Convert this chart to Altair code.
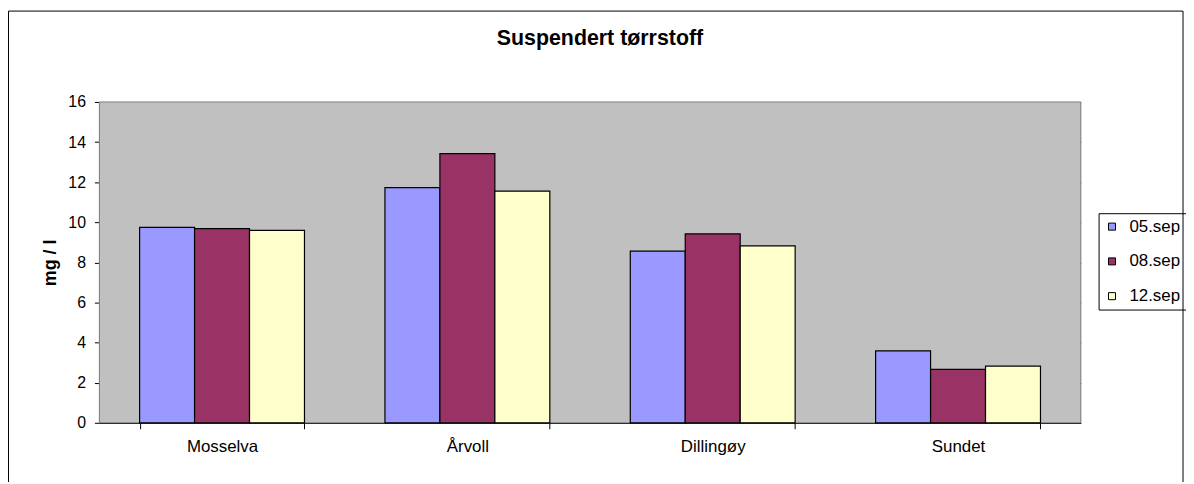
import altair as alt
import pandas as pd

title_text = "Suspendert tørrstoff"
sites = ["Mosselva", "Årvoll", "Dillingøy", "Sundet"]
dates = ["05.sep", "08.sep", "12.sep"]
v_05 = [9.75, 11.73, 8.56, 3.59]
v_08 = [9.68, 13.42, 9.42, 2.66]
v_12 = [9.60, 11.55, 8.82, 2.83]
colors = ["#9999FF", "#993366", "#FFFFCC"]

rows = []
for i, s in enumerate(sites):
    for d, vals in zip(dates, [v_05, v_08, v_12]):
        rows.append({"site": s, "date": d, "value": vals[i]})
df = pd.DataFrame(rows)

FONT = "Liberation Sans"
W, H = 988, 323
one = pd.DataFrame({"a": [0]})

bg = alt.Chart(one).mark_rect(fill="#C0C0C0", stroke="#808080", strokeWidth=1).encode(
    x=alt.value(0), x2=alt.value(W), y=alt.value(0), y2=alt.value(H))

frame = alt.Chart(one).mark_rect(
    fill="transparent", fillOpacity=0, stroke="black", strokeWidth=1
).encode(x=alt.value(-91.5), x2=alt.value(1091), y=alt.value(-91.5), y2=alt.value(420))

title = alt.Chart(pd.DataFrame({"t": [title_text]})).mark_text(
    font=FONT, fontSize=21.5, fontWeight="bold", color="black",
    align="center", baseline="middle"
).encode(text="t:N", x=alt.value(504), y=alt.value(-63))

bars = alt.Chart(df).mark_bar(stroke="black", strokeWidth=1.2).encode(
    x=alt.X("site:N", sort=sites,
            scale=alt.Scale(paddingInner=0.328, paddingOuter=0.164),
            axis=alt.Axis(title=None, labelAngle=0, tickBand="extent",
                          labelFontSize=17, labelColor="black", labelPadding=10,
                          domainColor="black", tickColor="black", tickSize=6,
                          labelFont=FONT, grid=False)),
    xOffset=alt.XOffset("date:N", sort=dates,
                        scale=alt.Scale(paddingInner=0, paddingOuter=0)),
    y=alt.Y("value:Q", scale=alt.Scale(domain=[0, 16], nice=False),
            axis=alt.Axis(title="mg / l", values=list(range(0, 17, 2)),
                          titleFontSize=18, titleFontWeight="bold", titleFont=FONT,
                          titleColor="black", titlePadding=8,
                          labelFontSize=16, labelColor="black", labelFont=FONT,
                          labelPadding=9, tickSize=5, tickColor="black",
                          domainColor="black", grid=True, gridColor="#000000",
                          gridOpacity=0.85)),
    fill=alt.Fill("date:N", sort=dates,
                  scale=alt.Scale(domain=dates, range=colors),
                  legend=alt.Legend(title=None, orient="none", legendX=1006, legendY=112,
                                    symbolType="square", symbolSize=50,
                                    symbolStrokeColor="black", symbolStrokeWidth=1,
                                    labelFontSize=17, labelFont=FONT, labelColor="black",
                                    strokeColor="black", padding=5, rowPadding=17,
                                    labelOffset=9)),
)

chart = alt.layer(bg, frame, title, bars).properties(
    width=W, height=H,
    autosize=alt.AutoSizeParams(type="none"),
    padding={"left": 92, "top": 93, "right": 106, "bottom": 58},
).configure_view(stroke=None).configure(background="white")

chart.save("out.html", embed_options={"renderer": "svg", "actions": False})
